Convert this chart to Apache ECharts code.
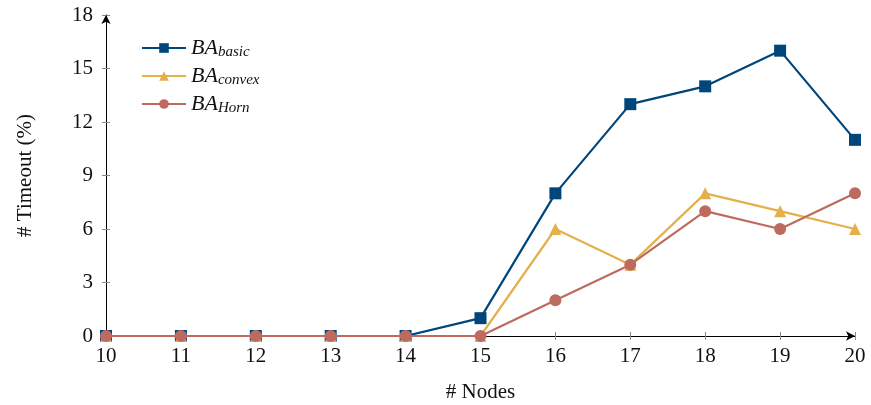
<!DOCTYPE html>
<html>
<head>
<meta charset="utf-8">
<script src="https://cdn.jsdelivr.net/npm/echarts@6/dist/echarts.min.js"></script>
<style>
  html, body { margin: 0; padding: 0; background: #fff; }
  #chart { width: 871px; height: 405px; }
</style>
</head>
<body>
<div id="chart"></div>
<script>
const nodes = [10, 11, 12, 13, 14, 15, 16, 17, 18, 19, 20];
const basic = [0, 0, 0, 0, 0, 1, 8, 13, 14, 16, 11];
const convex = [0, 0, 0, 0, 0, 0, 6, 4, 8, 7, 6];
const horn = [0, 0, 0, 0, 0, 0, 2, 4, 7, 6, 8];

const font = '"Liberation Serif", "DejaVu Serif", serif';
const tickColor = '#888';

function pairs(vals) {
  return nodes.map((n, i) => [n, vals[i]]);
}

const chart = echarts.init(document.getElementById('chart'));

function axisBase(extra) {
  return Object.assign({
    type: 'value',
    axisLine: { show: true, lineStyle: { color: '#000', width: 1 } },
    splitLine: { show: false },
    axisLabel: { color: '#111', fontSize: 21, fontFamily: font }
  }, extra);
}

const option = {
  animation: false,
  grid: { left: 106, right: 16, top: 15, bottom: 69, outerBoundsMode: 'none', containLabel: false },
  legend: {
    left: 136,
    top: 32,
    orient: 'vertical',
    itemWidth: 44,
    itemHeight: 12,
    itemGap: 5,
    textStyle: {
      fontFamily: font,
      color: '#111',
      rich: {
        a: { fontSize: 22, fontStyle: 'italic', fontFamily: font, color: '#111' },
        b: { fontSize: 15, fontStyle: 'italic', fontFamily: font, color: '#111', verticalAlign: 'bottom', padding: [9, 0, 0, 0] }
      }
    },
    formatter: function (name) {
      return '{a|BA}{b|' + name + '}';
    }
  },
  xAxis: [
    axisBase({
      min: 10, max: 20, interval: 1,
      name: '# Nodes', nameLocation: 'middle', nameGap: 46,
      nameTextStyle: { fontSize: 21, fontFamily: font, color: '#111' },
      axisLine: { show: true, symbol: ['none', 'arrow'], symbolSize: [7, 9], lineStyle: { color: '#000', width: 1 } },
      axisTick: { show: true, inside: true, length: 4, lineStyle: { color: tickColor } },
      axisLabel: { color: '#111', fontSize: 21, fontFamily: font, margin: 10 }
    }),
    axisBase({
      min: 10, max: 20, interval: 1, position: 'bottom',
      axisLine: { show: false },
      axisTick: { show: true, inside: false, length: 4, lineStyle: { color: tickColor } },
      axisLabel: { show: false }
    })
  ],
  yAxis: [
    axisBase({
      min: 0, max: 18, interval: 3,
      name: '# Timeout (%)', nameLocation: 'middle', nameGap: 70,
      nameTextStyle: { fontSize: 21, fontFamily: font, color: '#111' },
      axisLine: { show: true, symbol: ['none', 'arrow'], symbolSize: [7, 9], lineStyle: { color: '#000', width: 1 } },
      axisTick: { show: true, inside: true, length: 4, lineStyle: { color: tickColor } },
      axisLabel: { color: '#111', fontSize: 21, fontFamily: font, margin: 13 }
    }),
    axisBase({
      min: 0, max: 18, interval: 3, position: 'left',
      axisLine: { show: false },
      axisTick: { show: true, inside: false, length: 4, lineStyle: { color: tickColor } },
      axisLabel: { show: false }
    })
  ],
  series: [
    {
      name: 'basic', type: 'line', data: pairs(basic),
      symbol: 'rect', symbolSize: 12,
      lineStyle: { color: '#00467a', width: 2.2 },
      itemStyle: { color: '#00467a' }, z: 3
    },
    {
      name: 'convex', type: 'line', data: pairs(convex),
      symbol: 'triangle', symbolSize: 12,
      lineStyle: { color: '#e3b04b', width: 2.2 },
      itemStyle: { color: '#e3b04b' }, z: 4
    },
    {
      name: 'Horn', type: 'line', data: pairs(horn),
      symbol: 'circle', symbolSize: 12,
      lineStyle: { color: '#bf6a5e', width: 2.2 },
      itemStyle: { color: '#bf6a5e' }, z: 5
    }
  ]
};

chart.setOption(option);
</script>
</body>
</html>
